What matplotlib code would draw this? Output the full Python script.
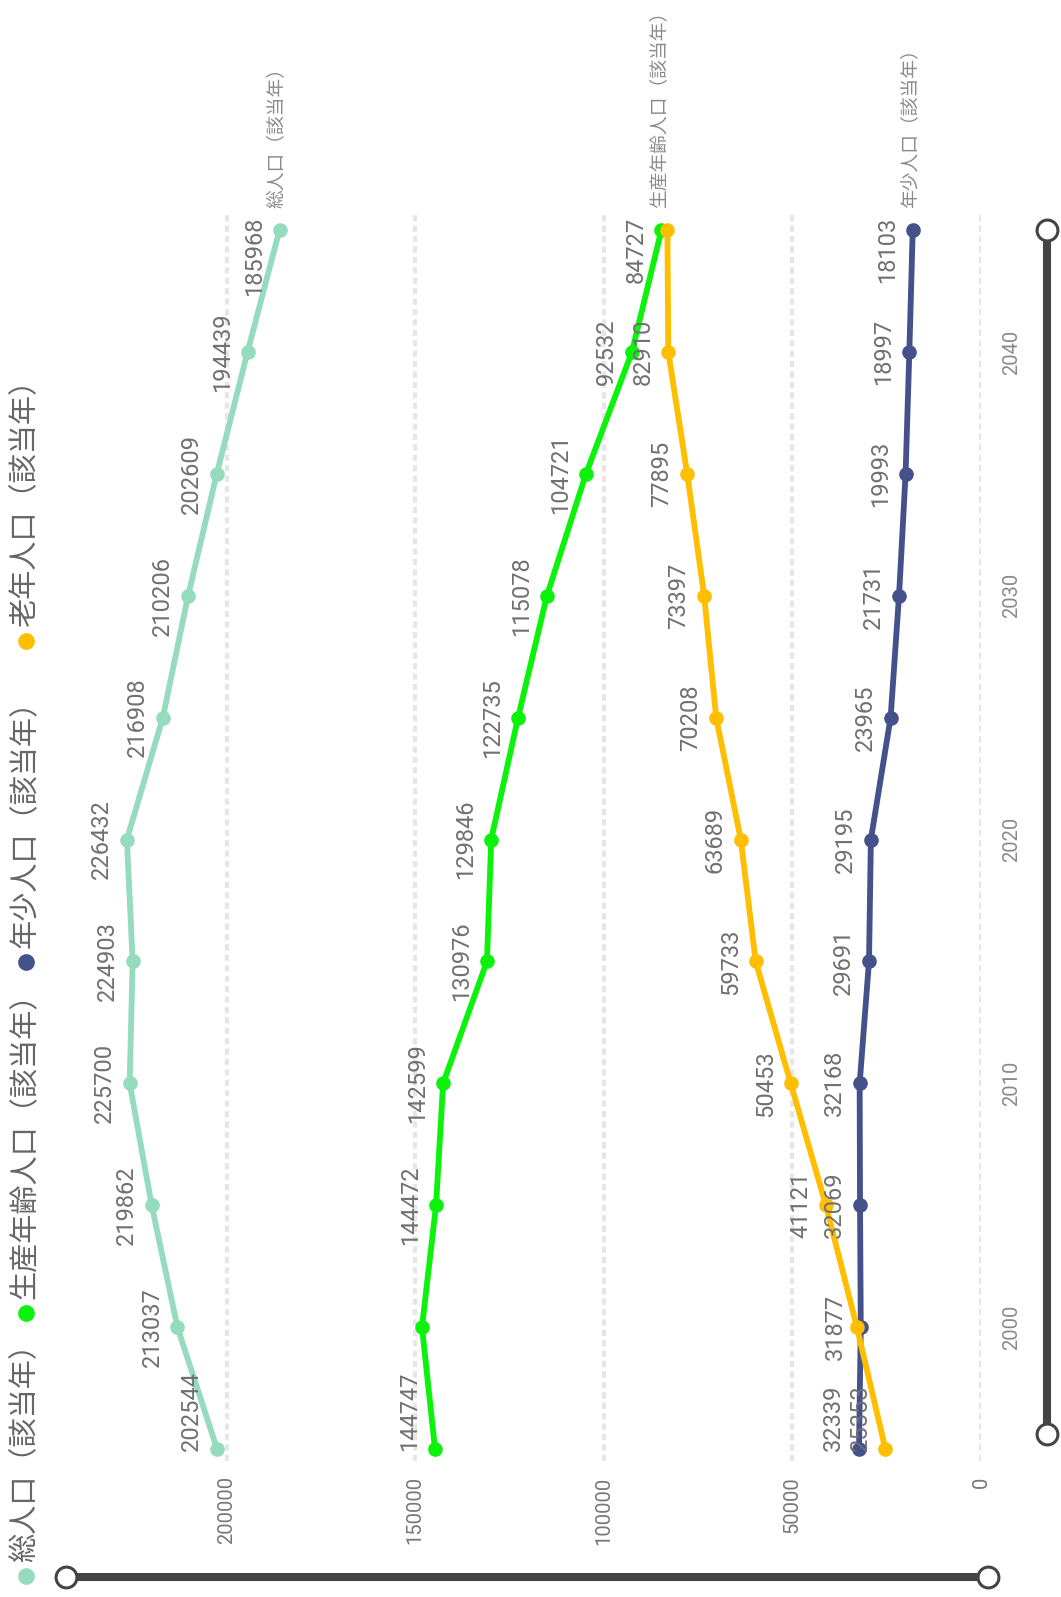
import matplotlib.pyplot as plt
from matplotlib.lines import Line2D

plt.rcParams['font.family'] = ['Roboto', 'Noto Sans CJK JP', 'DejaVu Sans']

# data
years = [1995, 2000, 2005, 2010, 2015, 2020, 2025, 2030, 2035, 2040, 2045]
total = [202544, 213037, 219862, 225700, 224903, 226432, 216908, 210206, 202609, 194439, 185968]
working = [144747, 148200, 144472, 142599, 130976, 129846, 122735, 115078, 104721, 92532, 84727]
young = [32339, 31877, 32069, 32168, 29691, 29195, 23965, 21731, 19993, 18997, 18103]
elderly = [25353, 32900, 41121, 50453, 59733, 63689, 70208, 73397, 77895, 82910, 83138]

names = ['総人口（該当年）', '生産年齢人口（該当年）', '年少人口（該当年）', '老年人口（該当年）']
colors = ['#95dbbd', '#0cf20c', '#45518a', '#ffbe00']
value_ticks = [0, 50000, 100000, 150000, 200000]
year_ticks = [2000, 2010, 2020, 2030, 2040]

# labels hidden because they overlap (per series)
hidden = [set(), {2000}, set(), {2000, 2045}]
show_name = [True, True, True, False]

W, H = 1061, 1597
fig = plt.figure(figsize=(W / 100, H / 100), dpi=100)

# chart is drawn turned 90 degrees: value runs right->left, year runs bottom->top
ax_left, ax_right, ax_top, ax_bottom = 40, 981, 213, 1461
px_per_unit = 3.772 / 1000
y1995, y2045 = 1449, 230
px_per_year = (y1995 - y2045) / 50

ax = fig.add_axes([ax_left / W, 1 - ax_bottom / H,
                   (ax_right - ax_left) / W, (ax_bottom - ax_top) / H])
ax.set_xlim((ax_right - ax_left) / px_per_unit, 0)
ax.set_ylim(1995 - (ax_bottom - y1995) / px_per_year,
            2045 + (y2045 - ax_top) / px_per_year)

for v in value_ticks:
    ax.axvline(v, color='#e6e6e6', lw=3.0, linestyle=(0, (1.5, 1.0)), zorder=0)

series = [total, working, young, elderly]
for i, vals in enumerate(series):
    ax.plot(vals, years, color=colors[i], lw=4.2, marker='o', ms=9.5,
            solid_joinstyle='round', solid_capstyle='round', zorder=2 + i)

for i, vals in enumerate(series):
    for yr, v in zip(years, vals):
        if yr in hidden[i]:
            continue
        if yr == years[0]:
            va, dy = 'bottom', -1.5
        elif yr == years[-1]:
            va, dy = 'top', 9.5
        else:
            va, dy = 'center', 0
        ax.annotate(str(v), (v, yr), xytext=(-10, dy), textcoords='offset points',
                    rotation=90, ha='right', va=va, fontsize=17, color='#707070',
                    zorder=10)
    if show_name[i]:
        ax.annotate(names[i], (vals[-1], years[-1]), xytext=(-2, 16),
                    textcoords='offset points', rotation=90, ha='center', va='bottom',
                    fontsize=13.5, color='#8c8c8c', family=['Noto Sans CJK JP'],
                    annotation_clip=False)

ax.set_xticks(value_ticks)
ax.set_xticklabels([str(v) for v in value_ticks], rotation=90, fontsize=14.5, color='#777777')
ax.tick_params(axis='x', length=0, pad=11)
ax.yaxis.tick_right()
ax.set_yticks(year_ticks)
ax.set_yticklabels([str(y) for y in year_ticks], rotation=90, va='center',
                   fontsize=14.5, color='#8a8a8a')
ax.tick_params(axis='y', length=0, pad=15)
for s in ax.spines.values():
    s.set_visible(False)

# legend, turned like the chart
leg_x = 25.5
leg_marker_y = [1576, 1313, 962, 641]
for i, name in enumerate(names):
    fig.add_artist(Line2D([leg_x / W], [1 - leg_marker_y[i] / H], marker='o', ms=11,
                          color=colors[i], ls='none'))
    fig.text(leg_x / W, 1 - (leg_marker_y[i] - 14) / H, name, rotation=90,
             ha='center', va='bottom', fontsize=21, color='#666666',
             family=['Noto Sans CJK JP'])

# zoom sliders
slider_color = '#444444'
hx = [66 / W, 988 / W]
hy = [1 - 1577 / H] * 2
vx = [1047 / W] * 2
vy = [1 - 230 / H, 1 - 1434 / H]
for xs, ys in [(hx, hy), (vx, vy)]:
    fig.add_artist(Line2D(xs, ys, lw=5.8, color=slider_color, solid_capstyle='butt'))
    fig.add_artist(Line2D(xs, ys, ls='none', marker='o', ms=15, mfc='white',
                          mec=slider_color, mew=2.2))

fig.savefig('out.png', dpi=100)
